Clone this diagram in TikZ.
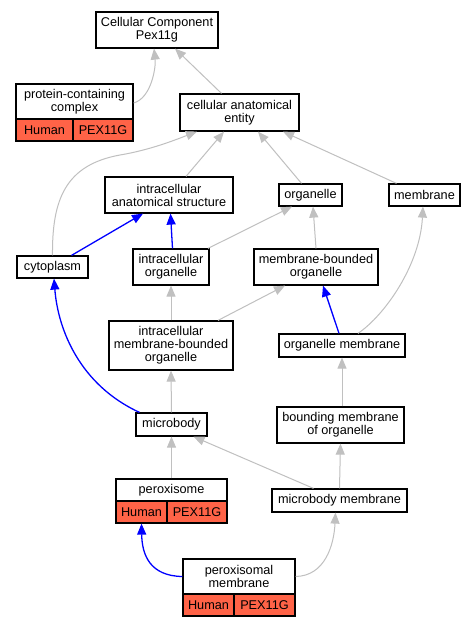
\documentclass[tikz,border=0pt]{standalone}
\usepackage{fontspec}
\setmainfont{Liberation Sans}
\usetikzlibrary{arrows.meta}
\definecolor{edgegray}{HTML}{C0C0C0}
\definecolor{tomatored}{HTML}{FF6347}
\begin{document}
\begin{tikzpicture}[x=1pt,y=-1pt,
 box/.style={draw=black, line width=1.2pt, fill=white, inner sep=0pt, align=center, font=\fontsize{12.7}{13}\selectfont},
 cell/.style={box, fill=tomatored},
 gedge/.style={draw=edgegray, line width=1pt, -{Triangle[length=11pt,width=9pt]}},
 bedge/.style={draw=blue, line width=1.3pt, -{Triangle[length=11pt,width=9pt]}}]
\useasboundingbox (0,0) rectangle (475,627);
\fill[white] (0,0) rectangle (475,627);
% nodes
\node[box, minimum width=122pt, minimum height=36pt] (cc) at (157,30) {Cellular Component\\Pex11g};
\node[box, minimum width=117pt, minimum height=35pt] (pcc) at (74.5,101.5) {protein-containing\\complex};
\node[cell, minimum width=57pt, minimum height=22pt] (pcch) at (44.5,130) {Human};
\node[cell, minimum width=60pt, minimum height=22pt] (pccg) at (103,130) {PEX11G};
\node[box, minimum width=119pt, minimum height=37pt] (cae) at (239.5,112.5) {cellular anatomical\\entity};
\node[box, minimum width=128pt, minimum height=36pt] (ias) at (169,195) {intracellular\\anatomical structure};
\node[box, minimum width=71pt, minimum height=22pt] (cyto) at (52.5,267) {cytoplasm};
\node[box, minimum width=76pt, minimum height=36pt] (io) at (171,267) {intracellular\\organelle};
\node[box, minimum width=63pt, minimum height=22pt] (org) at (310.5,195) {organelle};
\node[box, minimum width=71pt, minimum height=22pt] (mem) at (424.5,195) {membrane};
\node[box, minimum width=124pt, minimum height=36pt] (mbo) at (316,267) {membrane-bounded\\organelle};
\node[box, minimum width=126pt, minimum height=23pt] (om) at (342,345.5) {organelle membrane};
\node[box, minimum width=124pt, minimum height=49pt] (imbo) at (171,345.5) {intracellular\\membrane-bounded\\organelle};
\node[box, minimum width=71pt, minimum height=23pt] (mb) at (171.5,424.5) {microbody};
\node[box, minimum width=127pt, minimum height=36pt] (bmo) at (340.5,425) {bounding membrane\\of organelle};
\node[box, minimum width=111pt, minimum height=22pt] (perox) at (171.5,490) {peroxisome};
\node[cell, minimum width=51pt, minimum height=22pt] (peroxh) at (141.5,512) {Human};
\node[cell, minimum width=60pt, minimum height=22pt] (peroxg) at (197,512) {PEX11G};
\node[box, minimum width=135pt, minimum height=23pt] (mbm) at (339.5,500.5) {microbody membrane};
\node[box, minimum width=112pt, minimum height=35pt] (pm) at (239,576.5) {peroxisomal\\membrane};
\node[cell, minimum width=51pt, minimum height=22pt] (pmh) at (208.5,605) {Human};
\node[cell, minimum width=61pt, minimum height=22pt] (pmg) at (264.5,605) {PEX11G};
% edges
\draw[gedge] ([yshift=-1.5]pcc.east) .. controls +(18,-5) and +(2,18) .. ([xshift=-3]cc.south);
\draw[gedge] ([xshift=-18]cae.north) -- ([xshift=18]cc.south);
\draw[gedge] (cyto.north) .. controls (52,200) and (65,165) .. (120,155) .. controls (150,150) and (175,140) .. ([xshift=-42.5]cae.south);
\draw[gedge] ([xshift=17]ias.north) -- ([xshift=-15.5]cae.south);
\draw[gedge] ([xshift=-9]org.north) -- ([xshift=18.5]cae.south);
\draw[gedge] ([xshift=-28]mem.north) -- ([xshift=43.5]cae.south);
\draw[bedge] ([xshift=19]cyto.north) -- ([xshift=-26]ias.south);
\draw[bedge] ([xshift=1.5]io.north) -- ([xshift=1.5]ias.south);
\draw[gedge] ([xshift=37]io.north) -- ([xshift=-18.5]org.south);
\draw[gedge] (mbo.north) -- ([xshift=2.5]org.south);
\draw[gedge] (imbo.north) -- (io.south);
\draw[gedge] ([xshift=47]imbo.north) -- ([xshift=-31]mbo.south);
\draw[bedge] ([xshift=-3]om.north) -- ([xshift=7]mbo.south);
\draw[gedge] ([xshift=16]om.north) .. controls (385,315) and (420,265) .. ([xshift=-1.5]mem.south);
\draw[gedge] (mb.north) -- (imbo.south);
\draw[bedge] ([xshift=-32]mb.north) .. controls (80,385) and (58,330) .. ([xshift=1.5]cyto.south);
\draw[gedge] ([xshift=1.5]bmo.north) -- (om.south);
\draw[gedge] (perox.north) -- (mb.south);
\draw[gedge] ([xshift=-26]mbm.north) -- ([xshift=22]mb.south);
\draw[gedge] (mbm.north) -- ([xshift=0]bmo.south);
\draw[bedge] (pm.west) .. controls (150,576) and (142,555) .. (peroxh.south);
\draw[gedge] (pm.east) .. controls (325,576) and (334,545) .. ([xshift=-4]mbm.south);
\end{tikzpicture}
\end{document}
